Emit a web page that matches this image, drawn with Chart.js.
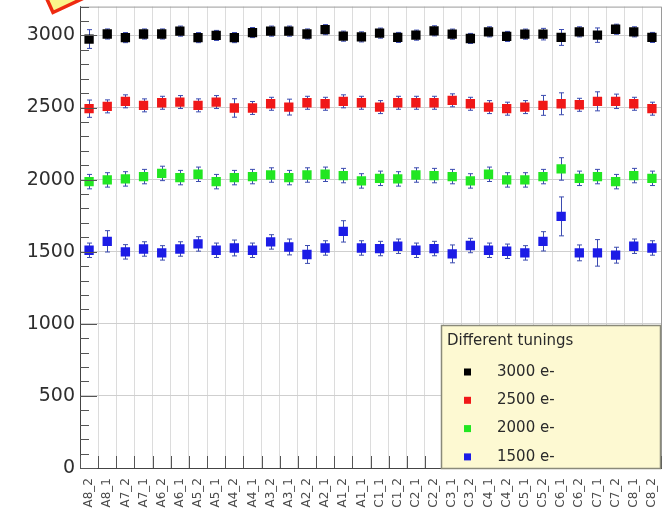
<!DOCTYPE html>
<html>
<head>
<meta charset="utf-8">
<script src="https://cdn.jsdelivr.net/npm/chart.js@4/dist/chart.umd.min.js"></script>
<style>
  html, body { margin: 0; padding: 0; background: #ffffff; }
  #c { display: block; }
</style>
</head>
<body>
<canvas id="c" width="671" height="523"></canvas>
<script>
// Channel names along the x axis
const categories = ['A8_2','A8_1','A7_2','A7_1','A6_2','A6_1','A5_2','A5_1','A4_2','A4_1','A3_2','A3_1','A2_2','A2_1','A1_2','A1_1',
                    'C1_1','C1_2','C2_1','C2_2','C3_1','C3_2','C4_1','C4_2','C5_1','C5_2','C6_1','C6_2','C7_1','C7_2','C8_1','C8_2'];

// Measured threshold per channel for each tuning (electrons)
const seriesLabels = ['3000 e-', '2500 e-', '2000 e-', '1500 e-'];
const tuning3000 = [2975,3010,2985,3010,3010,3030,2985,3000,2985,3020,3030,3030,3010,3040,2995,2990,
                    3016,2986,3002,3032,3009,2979,3025,2993,3009,3009,2986,3025,3002,3043,3025,2986];
const tuning2500 = [2492,2508,2543,2515,2533,2538,2515,2538,2497,2497,2526,2503,2533,2526,2543,2533,
                    2503,2533,2533,2533,2550,2526,2503,2492,2503,2515,2526,2519,2543,2543,2526,2492];
const tuning2000 = [1986,1998,2005,2021,2043,2014,2037,1986,2014,2021,2032,2014,2032,2037,2028,1991,
                    2009,2005,2032,2028,2021,1991,2037,1998,1998,2021,2074,2009,2021,1986,2028,2009];
const tuning1500 = [1510,1572,1499,1519,1492,1519,1554,1510,1526,1510,1568,1533,1481,1526,1641,1526,
                    1522,1538,1510,1522,1485,1543,1510,1503,1492,1572,1745,1492,1492,1476,1538,1526];

// Uncertainties (symmetric) for each point
const err3000 = [65,35,35,35,35,35,35,35,35,35,35,35,35,35,35,35,
                 35,35,35,35,35,35,35,35,35,40,55,35,50,35,35,35];
const err2500 = [60,45,45,45,45,45,45,45,64,45,45,55,45,45,45,45,
                 45,45,45,45,45,45,45,45,45,69,76,45,66,50,45,45];
const err2000 = [50,50,50,50,50,50,50,50,50,50,50,50,50,50,50,50,
                 50,50,50,50,50,50,50,50,50,50,78,50,50,50,50,50];
const err1500 = [50,74,50,50,50,50,50,50,55,50,50,55,62,50,74,50,
                 50,50,50,50,62,50,50,50,50,67,135,55,92,55,50,50];

// Y axis range and tick values
const yMin = 0, yMax = 3200, yMinor = 100;
const yTickValues = [0, 500, 1000, 1500, 2000, 2500, 3000];
const legendTitle = 'Different tunings';

const colors = ['#000000', '#f01818', '#22e622', '#1c1ce6'];
const values = [tuning3000, tuning2500, tuning2000, tuning1500];
const errors = [err3000, err2500, err2000, err1500];

const datasets = values.map((v, i) => ({
  label: seriesLabels[i],
  data: v,
  errors: errors[i],
  showLine: false,
  pointStyle: 'rect',
  pointRadius: 6.6,
  pointHoverRadius: 6.6,
  backgroundColor: colors[i],
  borderColor: colors[i],
  borderWidth: 0
}));

// Error bars with small caps, drawn under the markers
const errorBars = {
  id: 'errorBars',
  beforeDatasetsDraw(chart) {
    const ctx = chart.ctx, ys = chart.scales.y, xs = chart.scales.x;
    ctx.save();
    ctx.strokeStyle = '#3b4bb0';
    ctx.lineWidth = 1;
    chart.data.datasets.forEach(ds => {
      ds.data.forEach((v, j) => {
        const e = ds.errors[j];
        const x = Math.round(xs.getPixelForValue(j)) + 0.5;
        const y1 = ys.getPixelForValue(v + e), y2 = ys.getPixelForValue(v - e);
        ctx.beginPath();
        ctx.moveTo(x, y1); ctx.lineTo(x, y2);
        ctx.moveTo(x - 2.5, y1); ctx.lineTo(x + 2.5, y1);
        ctx.moveTo(x - 2.5, y2); ctx.lineTo(x + 2.5, y2);
        ctx.stroke();
      });
    });
    ctx.restore();
  }
};

// Frame and inward-pointing axis ticks
const frameTicks = {
  id: 'frameTicks',
  afterDatasetsDraw(chart) {
    const ctx = chart.ctx, a = chart.chartArea, ys = chart.scales.y, xs = chart.scales.x;
    ctx.save();
    ctx.strokeStyle = '#9a9a9a';
    ctx.lineWidth = 1;
    ctx.beginPath();
    ctx.moveTo(a.left, a.top + 0.5); ctx.lineTo(a.right + 0.5, a.top + 0.5);
    ctx.lineTo(a.right + 0.5, a.bottom);
    ctx.stroke();
    ctx.strokeStyle = '#555555';
    ctx.beginPath();
    for (let v = yMin; v <= yMax; v += yMinor) {
      const y = Math.round(ys.getPixelForValue(v)) + 0.5;
      const len = yTickValues.includes(v) ? 17 : 9;
      ctx.moveTo(a.left, y); ctx.lineTo(a.left + len, y);
    }
    for (let j = 0; j <= categories.length; j++) {
      const x = Math.round(xs.getPixelForValue(j - 0.5)) + 0.5;
      ctx.moveTo(x, a.bottom); ctx.lineTo(x, a.bottom - 12);
    }
    ctx.stroke();
    ctx.restore();
  }
};

// Legend box in the lower-right corner of the plot
const legendBox = {
  id: 'legendBox',
  afterDraw(chart) {
    const ctx = chart.ctx, a = chart.chartArea;
    const x0 = 441, y0 = 325, x1 = a.right, y1 = a.bottom;
    ctx.save();
    ctx.fillStyle = '#fdf9d2';
    ctx.fillRect(x0, y0, x1 - x0, y1 - y0);
    ctx.strokeStyle = '#8a8a7a';
    ctx.lineWidth = 1.5;
    ctx.strokeRect(x0 + 0.5, y0 + 0.5, x1 - x0 - 1, y1 - y0);
    ctx.fillStyle = '#2a2a2a';
    ctx.textBaseline = 'middle';
    ctx.font = '15px "DejaVu Sans"';
    ctx.fillText(legendTitle, 447, 341);
    chart.data.datasets.forEach((ds, i) => {
      const cy = 372 + i * 28.3;
      ctx.fillStyle = ds.backgroundColor;
      ctx.fillRect(464, cy - 3.5, 7, 7);
      ctx.fillStyle = '#2a2a2a';
      ctx.fillText(ds.label, 497, cy);
    });
    ctx.restore();
  }
};

// Small tilted note marker cut off at the top-left edge
const cornerNote = {
  id: 'cornerNote',
  afterDraw(chart) {
    const ctx = chart.ctx;
    ctx.save();
    ctx.beginPath();
    ctx.moveTo(46, -3);
    ctx.lineTo(53, 12.5);
    ctx.lineTo(84, -2);
    ctx.closePath();
    ctx.fillStyle = '#fbf58a';
    ctx.fill();
    ctx.strokeStyle = '#ee2a10';
    ctx.lineWidth = 3.5;
    ctx.lineJoin = 'miter';
    ctx.stroke();
    ctx.restore();
  }
};

new Chart(document.getElementById('c'), {
  type: 'line',
  data: { labels: categories, datasets },
  options: {
    responsive: false,
    animation: false,
    events: [],
    layout: { padding: { top: 5, right: 10, left: 0, bottom: 0 } },
    plugins: { legend: { display: false }, tooltip: { enabled: false } },
    scales: {
      x: {
        type: 'category',
        offset: true,
        grid: { offset: true, color: '#dcdcdc', lineWidth: 1, drawTicks: false },
        border: { display: true, color: '#444444', width: 1 },
        ticks: {
          autoSkip: false, maxRotation: 90, minRotation: 90, padding: 10,
          color: '#4a4a4a', font: { family: 'DejaVu Sans', size: 12 }
        },
        afterFit(scale) {
          scale.height = 55;
          scale.paddingLeft = 0;
          scale.paddingRight = 0;
        }
      },
      y: {
        min: yMin, max: yMax,
        grid: { color: '#cfcfcf', lineWidth: 1, drawTicks: false },
        border: { display: true, color: '#444444', width: 1 },
        ticks: {
          autoSkip: false, padding: 5,
          color: '#2e2e2e', font: { family: 'DejaVu Sans', size: 19 },
          callback: v => String(v)
        },
        afterBuildTicks(scale) { scale.ticks = yTickValues.map(v => ({ value: v })); },
        afterFit(scale) {
          scale.width = 80;
          scale.paddingTop = 0;
          scale.paddingBottom = 0;
        }
      }
    }
  },
  plugins: [errorBars, frameTicks, legendBox, cornerNote]
});
</script>
</body>
</html>
